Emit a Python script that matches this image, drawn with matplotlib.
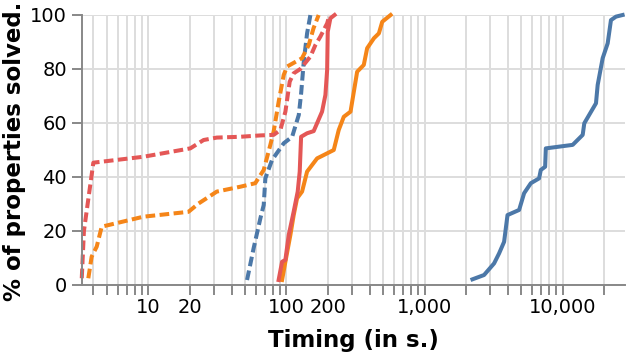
import matplotlib
matplotlib.use("Agg")
import matplotlib.pyplot as plt
from matplotlib.ticker import FixedLocator, FixedFormatter, NullLocator
import numpy as np

# ---- data (timing in seconds, % of properties solved) ----
red_dash_x = [3.29, 3.41, 3.99, 9.2, 20.1, 25.1, 31.3, 46.3, 64.6, 80.7, 90.3, 98.2, 105.5, 112.7, 126, 149, 162, 176, 197, 205]
red_dash_y = [2.5, 20, 45.3, 47.5, 50.6, 53.7, 54.6, 54.9, 55.4, 55.6, 57.4, 64.2, 75.3, 78.4, 80.0, 84.6, 88.9, 92, 96.9, 100]

orange_dash_x = [3.67, 3.88, 4.22, 4.59, 9.2, 19.5, 23.1, 31.3, 46.3, 59.4, 68.4, 76.4, 80.7, 87.8, 95.5, 101, 129.6, 145, 157, 171]
orange_dash_y = [2.5, 10.5, 14.2, 21.6, 25.3, 27.1, 30.2, 34.6, 36.4, 37.7, 42.6, 51.9, 56.8, 67.9, 77.8, 80.9, 84.0, 88.9, 95.1, 100]

blue_dash_x = [51.8, 57.8, 64.7, 68.4, 70.3, 78.6, 95.6, 109.9, 122.8, 127.7, 133.4, 141, 149]
blue_dash_y = [1.85, 13.6, 24.7, 29.6, 39.5, 46.3, 52.5, 54.9, 63.0, 71.0, 82.7, 93.2, 100]

red_solid_x = [87.7, 92.9, 98.2, 103.8, 112.8, 120.6, 124.7, 127.6, 141, 157.4, 181, 191.4, 197, 199, 208, 223]
red_solid_y = [1.85, 8.6, 9.3, 18.5, 27.2, 34.6, 42.0, 54.9, 56.2, 57.0, 64.2, 70.4, 79.6, 93.8, 98.8, 100]

orange_solid_x = [92.9, 98.2, 106.7, 112.8, 119.3, 129.7, 141, 166.7, 176, 220, 239, 260, 291, 325, 363, 384, 430, 467, 494, 568]
orange_solid_y = [1.85, 8.6, 18.5, 25.9, 32.1, 34.6, 42.0, 46.9, 47.5, 50.0, 57.4, 62.3, 64.2, 79.0, 81.5, 87.7, 91.4, 93.2, 97.5, 100]

blue_solid_x = [2223, 2698, 3190, 3467, 3770, 3990, 4843, 5263, 5888, 6760, 6950, 7474, 7560, 11830, 13980, 14360, 17450, 17950, 19510, 21210, 22400, 24370, 27200]
blue_solid_y = [2.1, 3.7, 8.0, 11.7, 16.0, 25.9, 27.8, 34.0, 37.7, 39.5, 42.6, 43.8, 50.6, 51.9, 55.6, 59.9, 67.3, 74.1, 84.0, 89.5, 98.1, 99.4, 100]

tick_label_values = [10, 20, 100, 200, 1000, 10000]
tick_label_texts = ["10", "20", "100", "200", "1,000", "10,000"]
y_ticks = [0, 20, 40, 60, 80, 100]

BLUE = "#4c78a8"
ORANGE = "#f58518"
RED = "#e45756"

W, H = 626, 356
fig = plt.figure(figsize=(W / 100, H / 100), dpi=100)
ax = fig.add_axes([81.7 / W, 1 - 285 / H, (625 - 81.7) / W, (285 - 15) / H])

ax.set_xscale("log")
ax.set_xlim(10 ** 0.5167, 10 ** 4.452)
ax.set_ylim(0, 100)

lw = 2.9
dash = (2.4, 1.1)
series = [
    (blue_solid_x, blue_solid_y, BLUE, "-"),
    (orange_solid_x, orange_solid_y, ORANGE, "-"),
    (red_solid_x, red_solid_y, RED, "-"),
    (blue_dash_x, blue_dash_y, BLUE, "--"),
    (orange_dash_x, orange_dash_y, ORANGE, "--"),
    (red_dash_x, red_dash_y, RED, "--"),
]
for xs, ys, c, ls in series:
    line, = ax.plot(xs, ys, color=c, lw=lw, solid_joinstyle="round", clip_on=False)
    if ls == "--":
        line.set_dashes(dash)
        line.set_dash_capstyle("butt")

# ticks: all 1..9 per decade
all_ticks = []
for d in range(0, 5):
    for m in range(1, 10):
        v = m * 10 ** d
        if 10 ** 0.5167 <= v <= 10 ** 4.452:
            all_ticks.append(v)
labels = []
for v in all_ticks:
    if v in tick_label_values:
        labels.append(tick_label_texts[tick_label_values.index(v)])
    else:
        labels.append("")
ax.xaxis.set_major_locator(FixedLocator(all_ticks))
ax.xaxis.set_major_formatter(FixedFormatter(labels))
ax.xaxis.set_minor_locator(NullLocator())
ax.set_yticks(y_ticks)

ax.grid(True, color="#dddddd", lw=1.4)
ax.set_axisbelow(True)
for s in ["top", "right"]:
    ax.spines[s].set_visible(False)
for s in ["left", "bottom"]:
    ax.spines[s].set_color("#888888")
    ax.spines[s].set_linewidth(1.4)
ax.tick_params(axis="both", which="major", length=7.2, width=1.4, color="#888888",
               labelsize=14, labelcolor="black")
ax.tick_params(axis="x", pad=2.5)
ax.tick_params(axis="y", pad=3.4)

fig.text(353.5 / W, 1 - 346.7 / H, "Timing (in s.)", ha="center", va="baseline",
         fontsize=16.5, fontweight="bold")
fig.text(15 / W, 1 - 151.5 / H, "% of properties solved.", ha="center", va="center",
         rotation=90, fontsize=16.5, fontweight="bold")

fig.savefig("out.png", dpi=100)
